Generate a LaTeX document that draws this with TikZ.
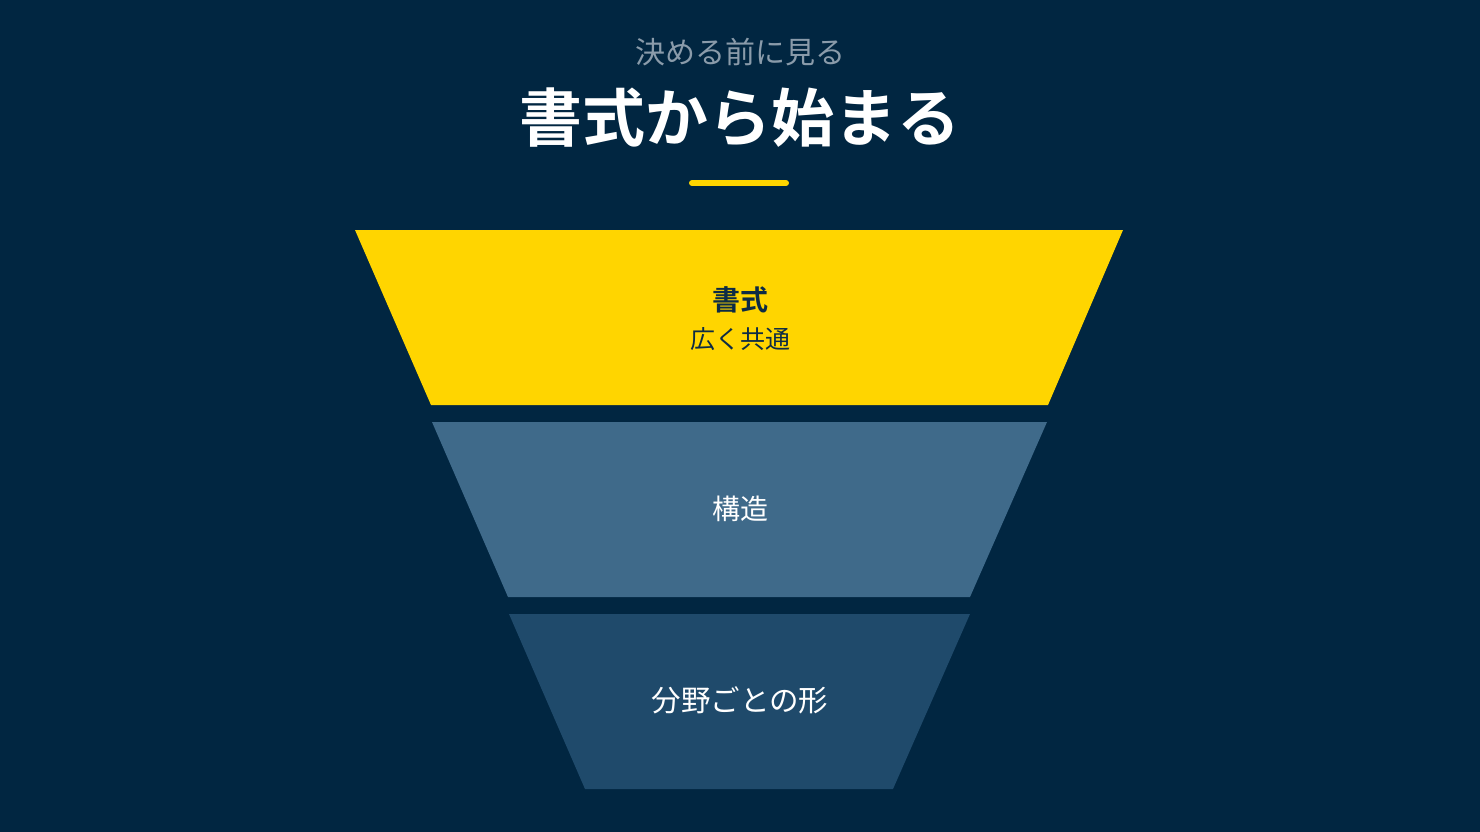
\documentclass[tikz,border=0pt]{standalone}
\usepackage{fontspec}
\setmainfont{Noto Sans CJK JP}[BoldFont={Noto Sans CJK JP Bold}]
\usetikzlibrary{positioning}
\definecolor{navy}{HTML}{012641}
\definecolor{gold}{HTML}{FFD500}
\definecolor{steel}{HTML}{3F6A8A}
\definecolor{deep}{HTML}{1F4A6B}
\definecolor{mist}{HTML}{8A9BAA}
\definecolor{ink}{HTML}{0D2B45}
\tikzset{
  x=1pt, y=-1pt,
  layer/.style={inner sep=0pt, align=center},
  every node/.style={inner sep=0pt},
}

\begin{document}
\begin{tikzpicture}
      \fill[navy] (0,0) rectangle (1480,832);
      \useasboundingbox (0,0) rectangle (1480,832);

      % heading
      \node[text=mist, font=\fontsize{30}{30}\selectfont] (kicker) at (740,52) {決める前に見る};
      \node[text=white, font=\fontsize{63}{63}\selectfont\bfseries] (title) at (740,118) {書式から始まる};
      \draw[gold, line width=6pt, line cap=round] (692,183) -- (786,183);

      % funnel
      \fill[gold]  (355,230) -- (1123,230) -- (1048,405) -- (431,405) -- cycle;
      \fill[steel] (432,422) -- (1047,422) -- (970,597) -- (508,597) -- cycle;
      \fill[deep]  (509,614) -- (970,614) -- (893,789) -- (585,789) -- cycle;

      \node[layer, text=ink, font=\fontsize{28}{28}\selectfont\bfseries] (fmt) at (740,300) {書式};
      \node[layer, text=ink, font=\fontsize{25}{25}\selectfont] (shared) at (740,339) {広く共通};
      \node[layer, text=white, font=\fontsize{28}{28}\selectfont] (struct) at (740,509) {構造};
      \node[layer, text=white, font=\fontsize{29.5}{29.5}\selectfont] (field) at (740,700) {分野ごとの形};
    \end{tikzpicture}
\end{document}
